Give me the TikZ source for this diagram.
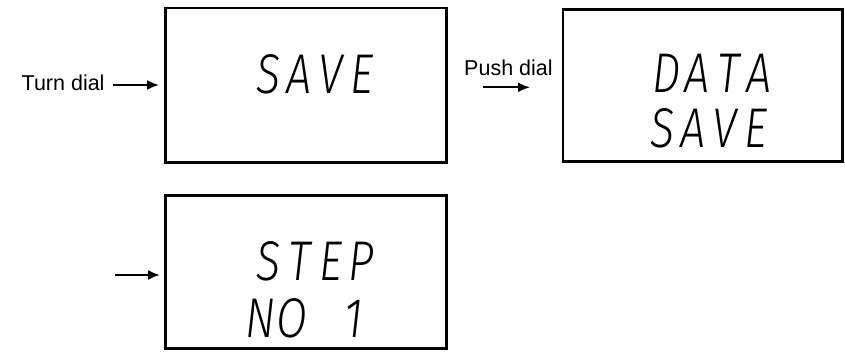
\documentclass[tikz,border=0pt]{standalone}
\usepackage{fontspec}
\setmainfont{Liberation Sans}
\newfontfamily\lcdfont{Fira Sans Light Italic}[FakeStretch=0.8]
\usetikzlibrary{arrows.meta}
\newcommand\lcdc[1]{\makebox[31pt][c]{#1}}
\begin{document}
\begin{tikzpicture}[x=1pt,y=-1pt,
  box/.style={draw, line width=2.4pt, inner sep=0pt, outer sep=0pt},
  lcd/.style={anchor=base, inner sep=0pt, font=\lcdfont\fontsize{56}{56}\selectfont},
  lbl/.style={anchor=base west, inner sep=0pt, font=\fontsize{21.5}{24}\selectfont},
  arr/.style={line width=2pt, -{Latex[length=12pt,width=10pt]}}]
\useasboundingbox (0,0) rectangle (845,351);
% boxes
\node[box, minimum width=281pt, minimum height=154.5pt] (b1) at (306,85.25) {};
\node[box, minimum width=279.5pt, minimum height=152pt] (b2) at (702.75,85.5) {};
\node[box, minimum width=281pt, minimum height=153pt] (b3) at (306,272) {};
% display texts
\node[lcd] (s1) at (315,93) {\lcdc{S}\lcdc{A}\lcdc{V}\lcdc{E}};
\node[lcd] (s2a) at (713,92) {\lcdc{D}\lcdc{A}\lcdc{T}\lcdc{A}};
\node[lcd] (s2b) at (709,147) {\lcdc{S}\lcdc{A}\lcdc{V}\lcdc{E}};
\node[lcd] (s3a) at (315,280) {\lcdc{S}\lcdc{T}\lcdc{E}\lcdc{P}};
\node[lcd] (s3b) at (307,337) {\lcdc{N}\lcdc{O}\lcdc{\ }\lcdc{1}};
% labels
\node[lbl] (l1) at (21.5,90.5) {Turn dial};
\node[lbl] (l2) at (464,75) {Push dial};
% arrows
\coordinate (a1) at (113,85);
\draw[arr, shorten >=6.5pt] (a1) -- (b1.west |- a1);
\coordinate (a2s) at (483,87.3);
\coordinate (a2e) at (530,87.3);
\draw[arr] (a2s) -- (a2e);
\coordinate (a3) at (115,275);
\draw[arr, shorten >=5.5pt] (a3) -- (b3.west |- a3);
\end{tikzpicture}
\end{document}
